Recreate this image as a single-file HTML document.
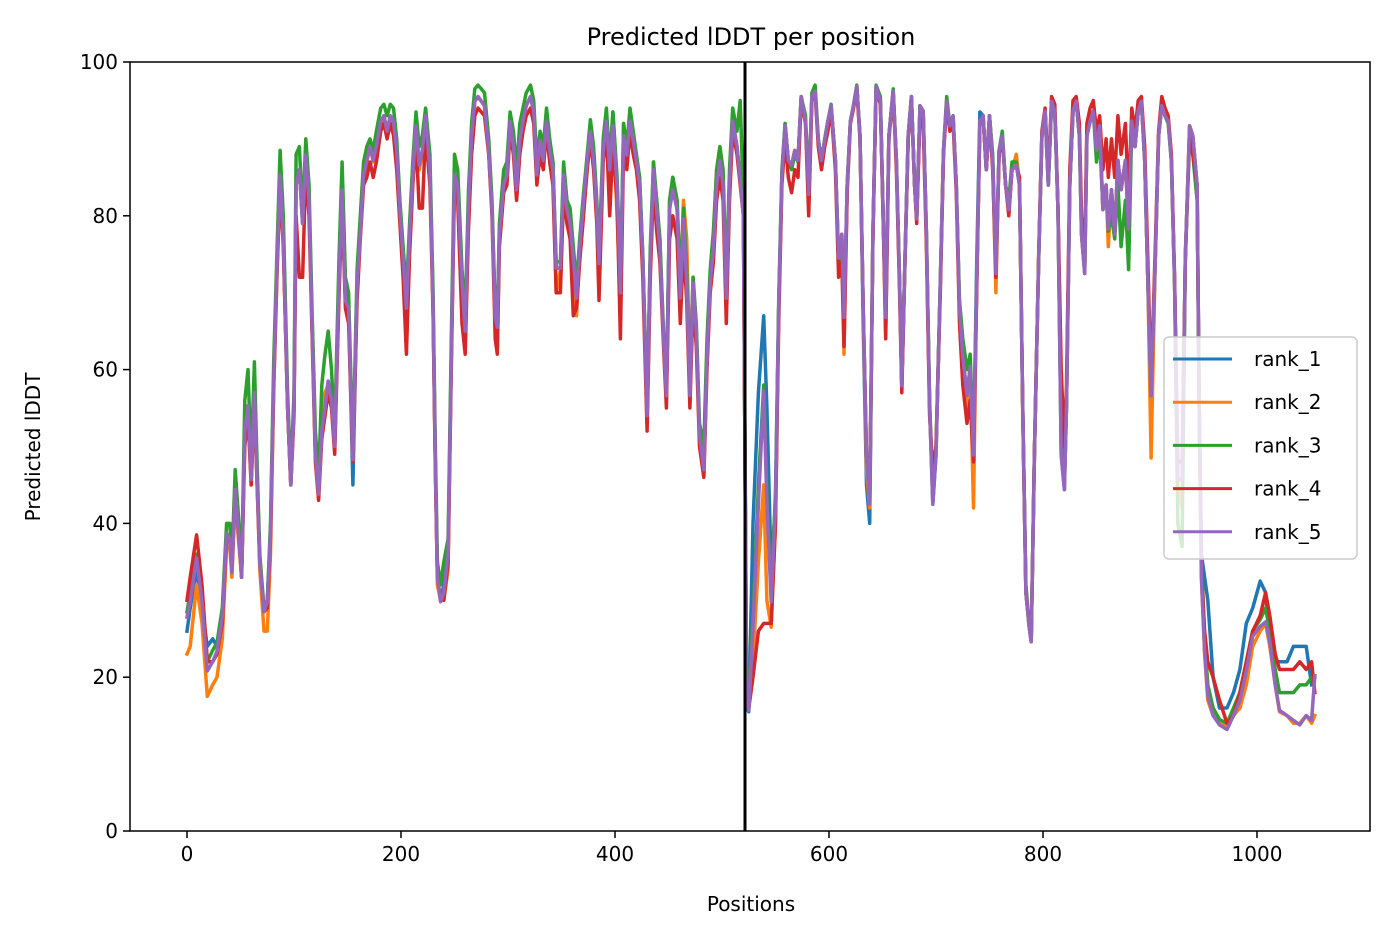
<!DOCTYPE html>
<html><head><meta charset="utf-8"><style>
html,body{margin:0;padding:0;background:#fff;}
svg{display:block;font-family:"DejaVu Sans","Liberation Sans",sans-serif;}
</style></head><body>
<svg id="chart" width="1391" height="939" viewBox="0 0 1391 939" xmlns="http://www.w3.org/2000/svg">
<rect x="0" y="0" width="1391" height="939" fill="#fff"/>
<text x="751" y="45" text-anchor="middle" font-size="24" fill="#000">Predicted lDDT per position</text>
<text x="751" y="911" text-anchor="middle" font-size="20" fill="#000">Positions</text>
<text transform="translate(40,447) rotate(-90)" text-anchor="middle" font-size="20" fill="#000">Predicted lDDT</text>
<g id="series"></g>
<g id="axes"></g>
<g id="legend"></g>
</svg>
<script>
const positions=[0,3,9,14,19,24,28,33,37,40,42,45,48,51,54,57,60,63,65,68,72,75,78,81,84,87,90,94,97,100,102,105,108,111,114,117,120,123,126,129,132,135,138,142,145,148,151,155,159,162,165,168,171,174,177,181,184,187,190,193,196,199,202,205,208,211,214,217,220,223,227,230,232,234,237,240,244,247,250,253,257,260,263,266,269,272,275,278,282,285,288,290,292,296,299,302,305,308,311,314,317,321,324,327,330,333,336,339,342,345,349,352,355,358,361,364,367,370,374,377,380,383,385,389,392,395,398,402,405,408,411,414,417,420,423,426,430,433,436,439,442,445,448,451,454,458,461,464,467,470,473,476,479,483,486,489,492,495,498,501,504,507,510,514,517,520,523,525,529,534,539,542,546,550,553,556,559,562,565,568,571,574,578,581,584,587,590,593,596,599,602,606,609,612,614,617,620,623,626,629,632,635,638,641,644,648,651,653,656,660,663,666,668,671,674,677,680,682,685,688,691,694,697,700,704,707,710,713,716,719,722,725,729,732,735,738,741,744,747,750,753,756,759,762,765,768,771,775,778,781,784,787,789,792,796,799,802,805,808,811,814,817,820,822,825,828,831,834,836,839,841,844,847,850,853,856,859,861,864,867,870,873,877,880,883,886,889,892,895,898,901,905,908,911,914,917,920,923,926,930,933,937,940,944,946,948,951,954,959,965,972,978,984,990,996,1003,1008,1012,1017,1021,1028,1034,1040,1046,1051,1054];
const rank5=[27.8,29.8,35.5,29.8,20.8,22,23.4,27.8,38.7,38,33.6,44.4,39,33,52,55.3,45.7,57,47.6,35,28.5,29.8,38.7,58.5,73.2,85.3,77,55.3,45,55,84,86,79,87.9,82,65,49,43.8,52,55,58.5,56,50,71,83.4,69,68,48.3,71,77.6,85.3,87.2,89,87.2,89,92.3,93,91,93,92.3,88.5,80.8,74.5,68,77.6,85.3,91.7,86.6,88.5,93,86,68,49,33,29.8,31,36,61.7,85.3,84,71.3,65,80.8,90.4,94.9,95.5,94.9,94.3,88.5,80.8,66.8,65.5,77.6,84,85.3,92.3,89,83.4,89.8,92.3,94.3,95.5,93.6,85.3,89.8,87.2,92.3,88.5,86,73.2,73.2,85.3,80.8,79,74.5,69.3,75.7,80.8,87.2,91,87.2,80.8,73.8,88.5,92.3,86,91.7,84,70,90.4,87.9,92.3,89.8,87.2,84,74.5,54,74.5,86,80.8,75.7,65,56.6,80.8,83.4,80.8,69.3,79.6,71.3,56.6,71.3,65,51.5,47,61.7,71.3,75.7,84,87.2,84,69.3,84,92.3,89,84.7,80,18,15.7,26.6,42.5,57.2,42.5,29.8,42.5,68,85.3,91.7,87.2,86.6,88.5,87.2,95.5,92.3,82.8,95.5,96.2,89.8,87.2,89.8,92.3,94.3,87.2,74.5,77.6,66.8,84,92.3,94.3,96.8,90.4,68,48.9,42.5,77.6,96.8,94.9,77.6,66.8,90.4,96.2,87.2,71.3,57.9,74.5,90.4,95.5,84,79.6,94.3,93.6,77.6,55.3,42.5,48.9,71.3,88.5,94.9,91.7,93,84,68,61.7,56.6,60.4,48.9,71.3,92.3,93,86,93,87.2,72.5,88.5,90.4,84,80.8,86,86.6,84,55.3,31,26.6,24.6,48.9,74.5,90.4,93.6,84,94.9,93.6,80.8,48.9,44.4,55.3,84,93.6,94.9,90.4,77.6,72.5,90.4,92.3,93.6,88.5,91.7,80.8,84,78.3,83.4,77.6,87.2,83.4,87.2,78.3,92.3,89,93.6,94.9,87.2,71.3,56.6,74.5,90.4,94.3,93,92.3,87.2,71.3,45.7,45.7,74.5,91.7,90.4,84,55.3,33,23.4,17.6,15,13.8,13.2,15,17,20.8,25.3,26.6,27.2,24.6,19,15.7,15,14.4,13.8,15,14.4,20.2];
const rank3=[28.5,31,36,31,22,23.5,24.5,29,40,40,35,47,41,34,56,60,48,61,50,36,29,30,40,61,75,88.5,80,57,46,57,88,89,80,90,84,67,52,46,58,62,65,60,52,74,87,72,70,49,73,80,87,89,90,88.5,91,94,94.5,93,94.5,94,90,82,76,70,79,87,93.5,89,90.5,94,88,70,51,35,32,35,38,64,88,86,73,67,83,92,96.5,97,96.5,96,90,82,68,66,79,86,87,93.5,91,86,92,94,96,97,95,87,91,89,94,90,87,74,74,87,82,81,76,71,77,82,88,92.5,89,82,75,90,94,87,93.5,85,71,92,89,94,91,88,85,75,55,76,87,82,77,66,57,82,85,82,71,81,73,58,72,66,53,50,64,73,78,86,89,86,71,86,94,91,95,82,20,17,28,45,58,44,31,44,69,86,92,87,86,88,87,95.5,93,83,96,97,90,87,90,92.3,94.5,87,74,77,65,84,92.3,94.5,97,90.4,68,48.9,44,77.6,97,95.5,77.6,65,90.4,96.5,87.2,71.3,58,74.5,90.4,95.5,84,79.6,94.3,93.6,78,56,44,50,71.3,88.5,95.5,91.7,93,84,69,64,60,62,50,71.3,92.3,93,86,93,88,72.5,88.5,91,84,82,87,87,84,55.3,32,27,25,48.9,74.5,90.4,93.6,84,94.9,93.6,80.8,51,46,55.3,84,93.6,94.9,90.4,79,73,90.4,92.3,93.6,87,90,81,83,78,80,77,84,76,82,73,92,89,93.6,94.9,87.2,71.3,56.6,74.5,90.4,94.3,93,92,87,71,40,37,74.5,90,88,82,55,36,25,19,16,14.5,14,16,18,22,26,27.5,29,26,21,18,18,18,19,19,20,20];
const rank4=[30,33,38.5,32,22,22,23,27,38,38,34,44,39,33,50,54,45,56,47,35,28.5,29,38,58,72,84,76,55,45,54,80,72,72,86,80,64,48,43,51,54,57,55,49,69,82,68,66,48,69,77,84,85,87,85,87,91,92,90,92,90.5,86,79,72,62,75,84,90,81,81,91,84,67,48,33,30,30,35,60,84,82,66,62,78,88,93,94,93.5,93,88,80,64,62,76,83,84,91,88,82,88,91,93,94,92,84,88,86,91,87,84,70,70,83,79,77,67,68,74,79,86,90,86,79,69,87,91,80,89,82,64,89,86,91,88,86,82,72,52,72,84,78,74,64,55,77,80,77,66,76,69,55,69,63,50,46,60,70,74,82,85,82,66,82,91,88,84,80,17,16,20,26,27,27,27,40,66,84,90,85,83,86,85,95,92,80,95,96,89,86,89,91,94,86,72,74,63,83,92,94,96.5,90,68,49,43,77,96.5,94.5,77,64,90,96,86,70,57,74,90,95,84,79,93,92,76,54,47,50,70,88,94.5,91,92,83,66,58,53,56,48,70,92,93,86,93,86,72,88,90,84,80,86,86.5,85,55,31,27,25,49,75,91,94,85,95.5,94.5,81,60,50,58,86,95,95.5,92,80,75,92,94,95,91,93,86,90,85,90,85,93,88,92,82,94,91,95,95.5,89,74,58,76,91,95.5,94,93,88,72,48,48,74,91,88,84,55,34,26,22,20,17,14,15,18,22,26,28,31,28,23,21,21,21,22,21,22,18];
const rank2=[23,24,32,27,17.5,19,20,25,37,37,33,43,38,33,51,54,45,56,47,34,26,26,36,57,72,85,77,55,45,55,84,86,79,87.5,82,65,49,45,54,57,58,56,50,71,83,69,68,48,71,77.6,85,87,89,87,89,92,93,91,93,92,88,80,74,68,77,85,91.5,86,88,92.5,86,68,49,32,30,30,34,62,85,84,71,65,81,90,94.9,95.5,94.9,94.3,88.5,80.8,67,66,78,84,85.3,92.3,89,83.4,89.8,92.3,94.3,95.5,93.6,85.3,89.8,87.2,92.3,88.5,86,70,73,85.3,80.8,78,73,67,75.7,80.8,87.2,91,87.2,80.8,74,88.5,92.3,84,91.7,80,68,90.4,87.9,92.3,89.8,87.2,84,74.5,53,74.5,87,81,77,65,56,81,85,82,71,82,77,60,72,65,51.5,46,61.7,71.3,76,86,89,85,70,84,92.5,89,84.7,80,17,16,22,35,45,30,26.5,40,68,85,91.7,87.2,86.6,88.5,87.2,95.5,92.3,82.8,95.5,96.2,89.8,87.2,89.8,92.3,94.3,87.2,74.5,77.6,62,84,92.3,94.3,96.8,90.4,68,47,42,77.6,96.8,94.9,77.6,66.8,90.4,96.2,87.2,71.3,57.9,74.5,90.4,95.5,84,79.6,94.3,93.6,77.6,55.3,44,48.9,71.3,88.5,94.9,91.7,93,84,68,61.7,54,60.4,42,71.3,92.3,93,86,93,87.2,70,88.5,90.4,84,80.8,86,88,84,55.3,31,26.6,24.6,48.9,74.5,90.4,93.6,84,94.9,93.6,80.8,50,45,55.3,84,93.6,94.9,90.4,77.6,72.5,90.4,92.3,93.6,88.5,91.7,80.8,84,76,83.4,77.6,87.2,83.4,87.2,78.3,92.3,89,93.6,94.9,87.2,71.3,48.5,74.5,90.4,94.3,93,92.3,87.2,71.3,45,42,74.5,91.7,90.4,84,55.3,33,23,17,15,14,13.5,15,16,19,24,26,27,24,19,15.5,15,14,14,15,14,15];
const rank1=[26,29,34,29,24,25,24,28,38,38,34,44,39,33,52,55,46,57,48,35,28.5,30,38.7,58.5,73,85,77,55,45,55,84,86,79,87.9,82,65,49,44,52,55,58.5,56,50,71,83.4,69,68,45,71,77.6,85.3,87.2,89,87.2,89,92.3,93,91,93,92.3,88.5,80.8,74.5,68,77.6,85.3,91.7,86.6,88.5,93,86,68,49,33,30,32,36,61.7,85.3,84,71.3,64,80.8,90.4,94.9,95.5,94.9,94.3,88.5,80.8,66.8,62.5,77.6,84,85.3,92.3,89,83.4,89.8,92.3,94.3,95.5,93.6,85.3,89.8,87.2,92.3,89.5,87,73.2,73.2,86,82,79,74.5,70,75.7,80.8,87.2,91,87.2,80.8,73.8,88.5,92.3,86,93.5,84,70,92,87.9,92.3,89.8,87.2,85,74.5,54,74.5,86,82,75.7,65,56.6,82,85,80.8,69.3,79.6,71.3,56.6,71.3,65,51.5,47,62,72,75.7,84,87.2,84,69.3,84,92.3,89,84.7,80,16,15.5,40,57,67,55,34,42.5,68,85.3,92,87.2,86.6,88.5,87.2,95.5,92.3,82.8,95.5,96.2,89.8,87.2,89.8,92.3,94.3,87.2,74.5,77.6,66.8,84,92.3,94.3,96.8,90.4,66,45,40,77.6,96.8,94.9,77.6,66.8,90.4,96.2,87.2,71.3,57.9,74.5,90.4,95.5,84,79.6,94.3,93.6,77.6,55.3,42.5,48.9,71.3,88.5,94.9,91.7,93,84,68,61.7,56.6,60.4,48.9,74,93.5,93,86,93,87.2,72.5,88.5,90.4,84,80.8,86,86.6,84,55.3,31,26.6,24.6,48.9,74.5,90.4,93.6,84,94.9,93.6,80.8,48.9,44.4,55.3,84,93.6,94.9,90.4,77.6,72.5,90.4,92.3,93.6,88.5,91.7,80.8,84,78.3,83.4,77.6,87.2,83.4,87.2,78.3,92.3,89,93.6,94.9,87.2,71.3,56.6,74.5,90.4,94.3,93,92.3,87.2,71.3,45.7,45.7,74.5,91.7,90.4,84,55.3,36,33,30,20,16,16,18,21,27,29,32.5,31,24,22,22,22,24,24,24,19];
const seriesNames=["rank_1","rank_2","rank_3","rank_4","rank_5"];
const seriesColors=["#1f77b4","#ff7f0e","#2ca02c","#d62728","#9467bd"];
const seriesValues=[rank1,rank2,rank3,rank4,rank5];
const xTicks=[0,200,400,600,800,1000];
const yTicks=[0,20,40,60,80,100];
const splitPosition=521.5;

const NS="http://www.w3.org/2000/svg";
const L=130,R=1370,T=62,B=831;
const xs=v=>187+v*1.07;
const ys=v=>B-(v/100)*(B-T);
function mk(tag,attrs,parent){const e=document.createElementNS(NS,tag);for(const k in attrs)e.setAttribute(k,attrs[k]);parent.appendChild(e);return e;}

const sg=document.getElementById('series');
seriesValues.forEach((vals,i)=>{
  const d=vals.map((v,j)=>(j?'L':'M')+xs(positions[j]).toFixed(1)+' '+ys(v).toFixed(1)).join(' ');
  const p=mk('path',{d:d,fill:'none',stroke:seriesColors[i],'stroke-width':3.5,'stroke-linejoin':'round','stroke-linecap':'square'},sg);
  
  
});
const vl=mk('line',{x1:xs(splitPosition),x2:xs(splitPosition),y1:T,y2:B,stroke:'#000','stroke-width':3},sg);



const ag=document.getElementById('axes');
const fr=mk('rect',{x:L,y:T,width:R-L,height:B-T,fill:'none',stroke:'#000','stroke-width':1.5},ag);


xTicks.forEach(t=>{
  const x=xs(t);
  const tk=mk('line',{x1:x,x2:x,y1:B,y2:B+7,stroke:'#000','stroke-width':1.5},ag);
  
  
  const lb=mk('text',{x:x,y:B+30,'text-anchor':'middle','font-size':20,fill:'#000'},ag);
  lb.textContent=t;
  
  
});
yTicks.forEach(t=>{
  const y=ys(t);
  const tk=mk('line',{x1:L-7,x2:L,y1:y,y2:y,stroke:'#000','stroke-width':1.5},ag);
  
  
  const lb=mk('text',{x:L-12,y:y+7,'text-anchor':'end','font-size':20,fill:'#000'},ag);
  lb.textContent=t;
  
  
});

const lg=document.getElementById('legend');
const box=mk('rect',{x:1164,y:337,width:193,height:222,rx:5,fill:'rgba(255,255,255,0.8)',stroke:'#ccc','stroke-width':1.5},lg);


seriesNames.forEach((n,i)=>{
  const y=359+i*43.2;
  const ln=mk('line',{x1:1173,x2:1232,y1:y,y2:y,stroke:seriesColors[i],'stroke-width':3},lg);
  
  
  const tx=mk('text',{x:1254,y:y+7,'font-size':20,fill:'#000'},lg);
  tx.textContent=n;
  
  
});
</script>
</body></html>
